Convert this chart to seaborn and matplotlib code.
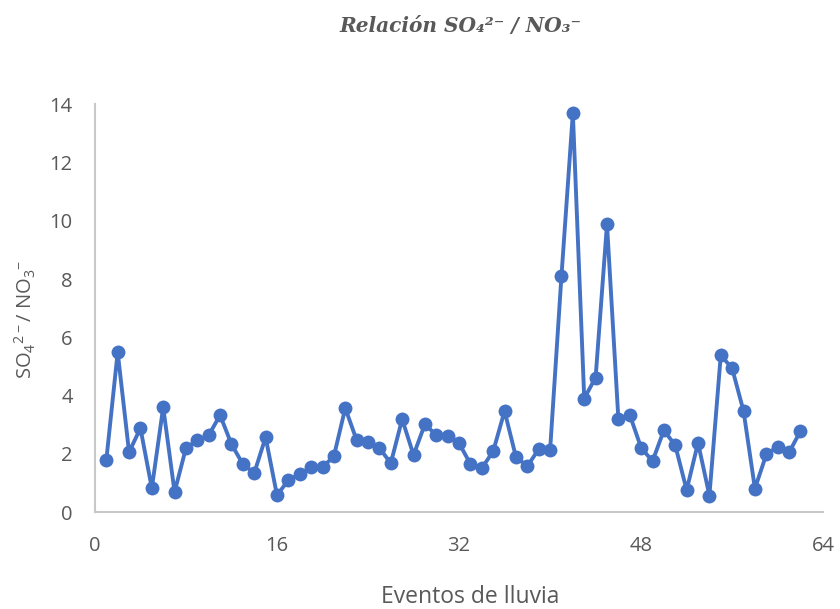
import numpy as np
import pandas as pd
import seaborn as sns
import matplotlib.pyplot as plt

# Valeurs (un point par événement de pluie)
eventos = list(range(1, 63))
relacion = [1.78, 5.49, 2.06, 2.88, 0.82, 3.60, 0.69, 2.20, 2.47, 2.64,
            3.33, 2.33, 1.65, 1.34, 2.57, 0.58, 1.10, 1.30, 1.54, 1.54,
            1.92, 3.57, 2.47, 2.40, 2.20, 1.68, 3.19, 1.96, 3.02, 2.64,
            2.60, 2.37, 1.65, 1.51, 2.09, 3.47, 1.89, 1.58, 2.16, 2.13,
            8.11, 13.69, 3.90, 4.62, 9.88, 3.20, 3.34, 2.21, 1.75, 2.81,
            2.29, 0.76, 2.38, 0.57, 5.39, 4.93, 3.47, 0.81, 1.98, 2.25,
            2.05, 2.78]
x_ticks = [0, 16, 32, 48, 64]
y_ticks = [0, 2, 4, 6, 8, 10, 12, 14]

df = pd.DataFrame({"evento": eventos, "relacion": relacion})

sns.set_style("white")
plt.rcParams["font.family"] = ["Open Sans", "DejaVu Sans"]
plt.rcParams["mathtext.fontset"] = "custom"
plt.rcParams["mathtext.rm"] = "Open Sans"
plt.rcParams["mathtext.it"] = "Open Sans"

gris = "#595959"
azul = "#4472C4"

fig = plt.figure(figsize=(8.4, 6.09), dpi=100)
ax = fig.add_axes([0.113, 0.159, 0.867, 0.670])

sns.lineplot(data=df, x="evento", y="relacion", color=azul, linewidth=2.8,
             marker="o", markersize=10, markeredgewidth=0, ax=ax)

ax.set_xlim(0, 64)
ax.set_ylim(0, 14)
ax.set_xticks(x_ticks)
ax.set_yticks(y_ticks)
ax.tick_params(length=0, labelsize=14.5, labelcolor=gris)
ax.tick_params(axis="x", pad=17)
ax.tick_params(axis="y", pad=16)

for s in ["top", "right"]:
    ax.spines[s].set_visible(False)
for s in ["left", "bottom"]:
    ax.spines[s].set_color("#C8C8C8")
    ax.spines[s].set_linewidth(1.5)

ax.set_xlabel("Eventos de lluvia", fontsize=16.5, color=gris, va="center")
ax.xaxis.set_label_coords(0.515, -0.209)
ax.set_ylabel(r"SO$_{4}$$^{2-}$/ NO$_{3}$$^{-}$", fontsize=14.5,
              color=gris, va="center")
ax.yaxis.set_label_coords(-0.096, 0.472)

fig.text(0.548, 0.958, "Relación SO₄²⁻ / NO₃⁻", ha="center", va="center",
         fontsize=14.5, color=gris, fontweight="bold", fontstyle="italic",
         family=["DejaVu Serif"])

fig.savefig("out.png", dpi=100)
